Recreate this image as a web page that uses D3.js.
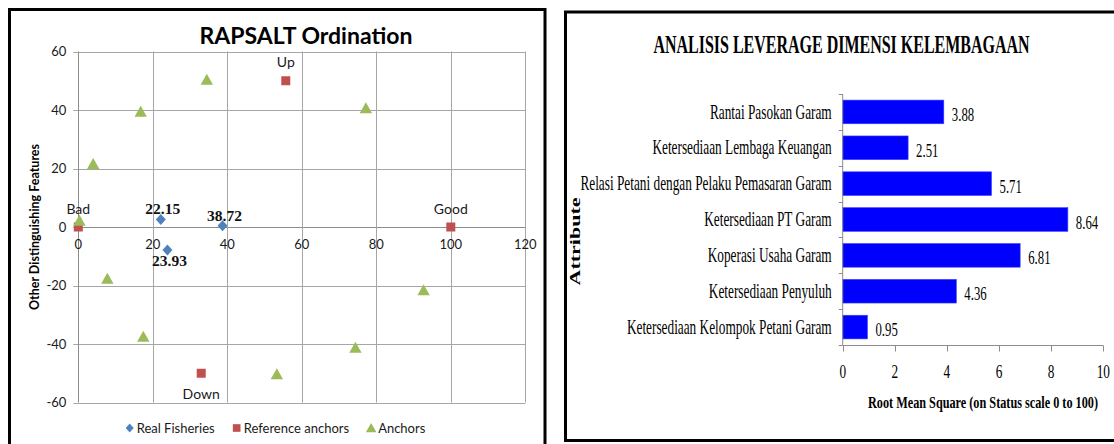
<!DOCTYPE html>
<html>
<head>
<meta charset="utf-8">
<script src="https://cdn.jsdelivr.net/npm/d3@7"></script>
<style>
  html, body { margin: 0; padding: 0; background: #fff; }
  svg { display: block; }
</style>
</head>
<body>
<div id="chart"></div>
<script>
// ---------------- Data: left panel (RAPSALT ordination) ----------------
const leftTitle = "RAPSALT Ordination";
const leftYTitle = "Other Distinguishing Features";
const seriesNames = ["Real Fisheries", "Reference anchors", "Anchors"];
const seriesColors = ["#4F81BD", "#C0504D", "#9BBB59"];

const realX = [22.15, 38.72, 23.93];
const realY = [2.6, 0.4, -7.9];
const realLabels = ["22.15", "38.72", "23.93"];
const realLabelPos = ["top", "top", "bottom"];

const refNames = ["Bad", "Good", "Up", "Down"];
const refX = [0, 100, 55.7, 33.0];
const refY = [0, 0, 50, -50];
const refLabelPos = ["top", "top", "top", "bottom"];

const anchorX = [34.5, 16.75, 4.0, 0.3, 77.2, 7.8, 17.45, 53.3, 74.4, 92.7];
const anchorY = [50.3, 39.4, 21.5, 2.1, 40.6, -17.7, -37.5, -50.3, -41.3, -21.6];

const leftXTicks = [0, 20, 40, 60, 80, 100, 120];
const leftYTicks = [-60, -40, -20, 0, 20, 40, 60];

// ---------------- Data: right panel (leverage) ----------------
const rightTitle = "ANALISIS LEVERAGE DIMENSI KELEMBAGAAN";
const rightXTitle = "Root Mean Square (on Status scale 0 to 100)";
const rightYTitle = "Attribute";
const attributes = [
  "Rantai Pasokan Garam",
  "Ketersediaan Lembaga Keuangan",
  "Relasi Petani dengan Pelaku Pemasaran Garam",
  "Ketersediaan PT Garam",
  "Koperasi Usaha Garam",
  "Ketersediaan Penyuluh",
  "Ketersediaan Kelompok Petani Garam"
];
const rmsValues = [3.88, 2.51, 5.71, 8.64, 6.81, 4.36, 0.95];
const rightXTicks = [0, 2, 4, 6, 8, 10];

// ---------------- Drawing ----------------
const W = 1114, H = 444;
const svg = d3.select("#chart").append("svg").attr("width", W).attr("height", H);
svg.append("rect").attr("width", W).attr("height", H).attr("fill", "#fff");

const SANS = "Lato, 'Open Sans', sans-serif";
const SERIF = "'Liberation Serif', 'Times New Roman', serif";

// ===== Left panel =====
const L = svg.append("g");
L.append("rect").attr("x", 9.5).attr("y", 9.5).attr("width", 535.5).attr("height", 470)
  .attr("fill", "none").attr("stroke", "#000").attr("stroke-width", 3);

const xL = d3.scaleLinear().domain([0, 120]).range([78.3, 525.3]);
const yL = d3.scaleLinear().domain([-60, 60]).range([402.5, 51.5]);

// gridlines
L.append("g").selectAll("line").data(leftYTicks).join("line")
  .attr("x1", xL(0) - 5).attr("x2", xL(120))
  .attr("y1", d => Math.round(yL(d)) + 0.5).attr("y2", d => Math.round(yL(d)) + 0.5)
  .attr("stroke", d => d === 0 ? "#8c8c8c" : "#a6a6a6").attr("stroke-width", 1);
L.append("g").selectAll("line").data(leftXTicks).join("line")
  .attr("y1", yL(60)).attr("y2", yL(-60))
  .attr("x1", d => Math.round(xL(d)) + 0.5).attr("x2", d => Math.round(xL(d)) + 0.5)
  .attr("stroke", d => d === 0 ? "#8c8c8c" : "#a6a6a6").attr("stroke-width", 1);

// tick labels
L.append("g").selectAll("text").data(leftYTicks).join("text")
  .attr("x", xL(0) - 12).attr("y", d => yL(d) + 4.5)
  .attr("text-anchor", "end").attr("font-family", SANS).attr("font-size", 13)
  .attr("fill", "#1a1a1a").text(d => d);
L.append("g").selectAll("text").data(leftXTicks).join("text")
  .attr("x", d => xL(d)).attr("y", yL(0) + 22)
  .attr("text-anchor", "middle").attr("font-family", SANS).attr("font-size", 13)
  .attr("fill", "#1a1a1a").text(d => d);

// titles
L.append("text").attr("x", 306).attr("y", 44.3).attr("text-anchor", "middle")
  .attr("font-family", SANS).attr("font-weight", "bold").attr("font-size", 23)
  .attr("fill", "#000").text(leftTitle);
L.append("text").attr("transform", `translate(39,${yL(0)}) rotate(-90)`)
  .attr("text-anchor", "middle").attr("font-family", SANS).attr("font-weight", "bold")
  .attr("font-size", 12.5).attr("fill", "#000").text(leftYTitle);

// marker paths
const markers = {
  diamond: "M0,-5.5L5,0L0,5.5L-5,0Z",
  square: "M-4.5,-4.5H4.5V4.5H-4.5Z",
  triangle: "M0,-6L6.2,5H-6.2Z"
};

const realData = realX.map((x, i) => ({ x, y: realY[i], label: realLabels[i], pos: realLabelPos[i] }));
const refData = refX.map((x, i) => ({ x, y: refY[i], label: refNames[i], pos: refLabelPos[i] }));
const anchorData = anchorX.map((x, i) => ({ x, y: anchorY[i] }));

L.append("g").selectAll("path").data(realData).join("path")
  .attr("d", markers.diamond).attr("fill", seriesColors[0])
  .attr("transform", d => `translate(${xL(d.x)},${yL(d.y)})`);
L.append("g").selectAll("text").data(realData).join("text")
  .attr("x", d => xL(d.x) + 2)
  .attr("y", d => d.pos === "top" ? yL(d.y) - 5 : yL(d.y) + 16)
  .attr("text-anchor", "middle").attr("font-family", SERIF).attr("font-weight", "bold")
  .attr("font-size", 15.5).attr("fill", "#111").text(d => d.label);

L.append("g").selectAll("path").data(refData).join("path")
  .attr("d", markers.square).attr("fill", seriesColors[1])
  .attr("transform", d => `translate(${xL(d.x)},${yL(d.y)})`);
L.append("g").selectAll("text").data(refData).join("text")
  .attr("x", d => xL(d.x))
  .attr("y", d => d.pos === "top" ? yL(d.y) - 13.5 : yL(d.y) + 26)
  .attr("text-anchor", "middle").attr("font-family", SANS)
  .attr("font-size", 14).attr("fill", "#1a1a1a").text(d => d.label);

L.append("g").selectAll("path").data(anchorData).join("path")
  .attr("d", markers.triangle).attr("fill", seriesColors[2])
  .attr("transform", d => `translate(${xL(d.x)},${yL(d.y)})`);

// legend
const legend = L.append("g");
const legendMarkers = [markers.diamond, markers.square, markers.triangle];
let lx = 0;
seriesNames.forEach((name, i) => {
  const g = legend.append("g");
  g.append("path").attr("d", legendMarkers[i]).attr("fill", seriesColors[i])
    .attr("transform", `translate(5,0) scale(${i === 0 ? 0.8 : 0.85})`);
  const t = g.append("text").attr("x", 12).attr("y", 4.5).attr("font-family", SANS)
    .attr("font-size", 13).attr("fill", "#1a1a1a").text(name);
  const w = 12 + t.node().getComputedTextLength();
  g.attr("transform", `translate(${lx},428)`);
  lx += w + 17;
});
const legendW = lx - 17;
legend.attr("transform", `translate(${275 - legendW / 2},0)`);

// ===== Right panel =====
const R = svg.append("g");
R.append("rect").attr("x", 565.5).attr("y", 12).attr("width", 600).attr("height", 428.5)
  .attr("fill", "none").attr("stroke", "#000").attr("stroke-width", 3);

const xR = d3.scaleLinear().domain([0, 10]).range([842.7, 1103.3]);
const yR = d3.scaleBand().domain(attributes).range([94, 345]).paddingInner(0.34).paddingOuter(0.17);
const step = yR.step();
const offset = (step - yR.bandwidth()) / 2;

// condensed text helper
function ctext(parent, x, y, sx, str, opts) {
  const g = parent.append("g").attr("transform", `translate(${x},${y}) scale(${sx},1)`);
  return g.append("text").attr("x", 0).attr("y", 0)
    .attr("font-family", SERIF).attr("font-size", opts.size)
    .attr("font-weight", opts.bold ? "bold" : "normal")
    .attr("text-anchor", opts.anchor || "start").attr("fill", "#000").text(str);
}

// title
ctext(R, 841.5, 53.3, 0.64, rightTitle, { size: 25, bold: true, anchor: "middle" });

// bars
R.append("g").selectAll("rect").data(attributes).join("rect")
  .attr("x", xR(0)).attr("y", d => yR(d))
  .attr("width", (d, i) => xR(rmsValues[i]) - xR(0))
  .attr("height", yR.bandwidth())
  .attr("fill", "#0000FF").attr("stroke", "#3d3dff").attr("stroke-width", 0.6);

// axes lines
R.append("line").attr("x1", xR(0)).attr("x2", xR(0)).attr("y1", 94).attr("y2", 345)
  .attr("stroke", "#8c8c8c").attr("stroke-width", 1);
R.append("line").attr("x1", xR(0)).attr("x2", xR(10)).attr("y1", 345.5).attr("y2", 345.5)
  .attr("stroke", "#8c8c8c").attr("stroke-width", 1);

// y ticks at band boundaries
const boundaries = attributes.map(a => yR(a) - offset).concat([yR(attributes[attributes.length - 1]) - offset + step]);
R.append("g").selectAll("line").data(boundaries).join("line")
  .attr("x1", xR(0) - 4).attr("x2", xR(0))
  .attr("y1", d => Math.round(d) + 0.5).attr("y2", d => Math.round(d) + 0.5)
  .attr("stroke", "#8c8c8c");

// x ticks
R.append("g").selectAll("line").data(rightXTicks).join("line")
  .attr("x1", d => Math.round(xR(d)) + 0.5).attr("x2", d => Math.round(xR(d)) + 0.5)
  .attr("y1", 345.5).attr("y2", 351.5).attr("stroke", "#8c8c8c");
rightXTicks.forEach(d => ctext(R, xR(d), 378, 0.7, d, { size: 19, anchor: "middle" }));

// category labels
attributes.forEach(a => ctext(R, 831.7, yR(a) + yR.bandwidth() / 2 + 6.6, 0.665, a, { size: 20, anchor: "end" }));

// value labels
attributes.forEach((a, i) => ctext(R, xR(rmsValues[i]) + 8, yR(a) + yR.bandwidth() / 2 + 9, 0.71, rmsValues[i].toFixed(2), { size: 18, anchor: "start" }));

// axis titles
ctext(R, 983, 408.3, 0.72, rightXTitle, { size: 17, bold: true, anchor: "middle" });
const yt = R.append("g").attr("transform", `translate(575,241.5) scale(0.7,1) rotate(-90)`);
yt.append("text").attr("x", 0).attr("y", 7).attr("text-anchor", "middle")
  .attr("font-family", SERIF).attr("font-weight", "bold").attr("font-size", 22)
  .attr("fill", "#000").text(rightYTitle);
</script>
</body>
</html>
